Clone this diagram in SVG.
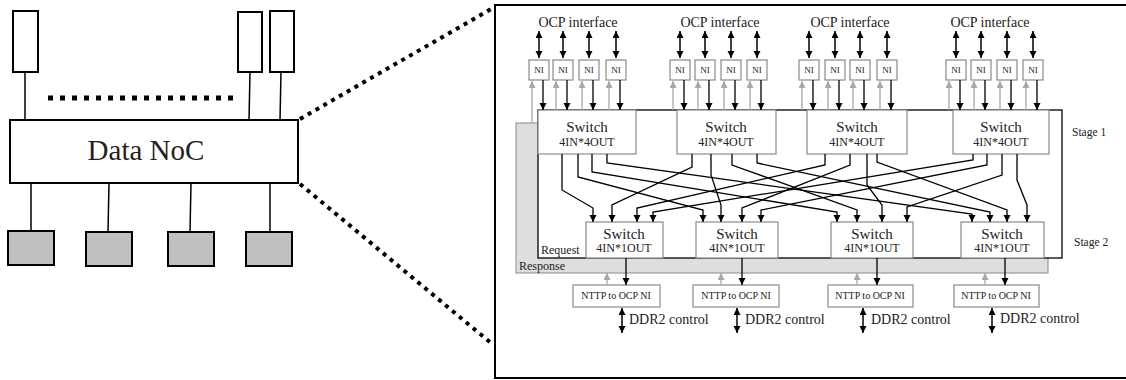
<svg xmlns="http://www.w3.org/2000/svg" width="1126" height="380" viewBox="0 0 1126 380">
<defs>
<marker id="ab" markerUnits="userSpaceOnUse" markerWidth="8" markerHeight="8" refX="7" refY="3.5" orient="auto-start-reverse"><path d="M0,0 L7,3.5 L0,7 z" fill="#000"/></marker>
<marker id="ag" markerUnits="userSpaceOnUse" markerWidth="8" markerHeight="8" refX="7" refY="3.5" orient="auto-start-reverse"><path d="M0,0 L7,3.5 L0,7 z" fill="#a8a8a8"/></marker>
<style>
.lb{fill:#fff;stroke:#000;stroke-width:2}
.gr{fill:#c0c0c0;stroke:#000;stroke-width:2}
.ln{stroke:#000;stroke-width:1.5;fill:none}
.dots{stroke:#000;stroke-width:4;stroke-dasharray:4 5;fill:none}
.sw{fill:#fff;stroke:#8a8a8a;stroke-width:1.2}
.t{font-family:"Liberation Serif",serif;fill:#222}
.blk{stroke:#000;stroke-width:1.3;fill:none;marker-end:url(#ab)}
.dbl{stroke:#000;stroke-width:1.5;fill:none;marker-end:url(#ab);marker-start:url(#ab)}
.gry{stroke:#a8a8a8;stroke-width:1.3;fill:none;marker-end:url(#ag)}
.s1{font-size:15px;text-anchor:middle}
.s2{font-size:12px;text-anchor:middle}
</style>
</defs>

<!-- Left panel -->
<g id="left-top-nodes">
<rect class="lb" x="13" y="11" width="25" height="61"/>
<rect class="lb" x="238" y="12" width="24" height="60"/>
<rect class="lb" x="270" y="11" width="24" height="61"/>
</g>
<g id="data-noc">
<rect class="lb" x="10" y="120" width="288" height="63"/>
<text class="t" x="146" y="160" font-size="29" text-anchor="middle" fill="#000">Data NoC</text>
</g>
<g id="left-bottom-nodes">
<rect class="gr" x="8" y="231" width="46" height="34"/>
<rect class="gr" x="86" y="232" width="46" height="34"/>
<rect class="gr" x="168" y="232" width="46" height="34"/>
<rect class="gr" x="246" y="232" width="46" height="34"/>
</g>
<g id="left-connectors">
<line class="ln" x1="25" y1="72" x2="25" y2="120"/>
<line class="ln" x1="250" y1="72" x2="249" y2="120"/>
<line class="ln" x1="281" y1="72" x2="280" y2="120"/>
<line class="ln" x1="31" y1="183" x2="31" y2="231"/>
<line class="ln" x1="109" y1="183" x2="108" y2="232"/>
<line class="ln" x1="191" y1="183" x2="190" y2="232"/>
<line class="ln" x1="270" y1="183" x2="270" y2="232"/>
<line x1="48" y1="98" x2="236" y2="98" stroke="#000" stroke-width="5" stroke-dasharray="5 7"/>
<line class="dots" x1="300" y1="119" x2="491" y2="9"/>
<line class="dots" x1="300" y1="184" x2="491" y2="343"/>
</g>

<!-- Right panel frame -->
<rect x="495" y="5" width="640" height="373" fill="#fff" stroke="#000" stroke-width="2"/>

<!-- Response / Request regions -->
<g id="response">
<rect x="516" y="123" width="532" height="150" fill="#dedede" stroke="#9a9a9a" stroke-width="1.2"/>
<text class="t" x="519" y="270" font-size="12">Response</text>
</g>
<g id="request">
<rect x="538" y="110" width="524" height="148" fill="#fff" stroke="#000" stroke-width="1.3"/>
<text class="t" x="541" y="254" font-size="12">Request</text>
</g>

<!-- Stage labels -->
<text class="t" x="1072" y="136" font-size="11.5">Stage 1</text>
<text class="t" x="1074" y="246" font-size="11.5">Stage 2</text>

<!-- OCP interface labels -->
<g font-size="14" text-anchor="middle">
<text class="t" x="578" y="27">OCP interface</text>
<text class="t" x="720" y="27">OCP interface</text>
<text class="t" x="850" y="27">OCP interface</text>
<text class="t" x="990" y="27">OCP interface</text>
</g>

<!-- NI nodes -->
<g id="ni-nodes" font-size="9" text-anchor="middle">
<g id="ni1"><rect class="sw" x="529" y="60" width="20" height="20"/><text class="t" x="539" y="73">NI</text></g>
<g id="ni2"><rect class="sw" x="553" y="60" width="20" height="20"/><text class="t" x="563" y="73">NI</text></g>
<g id="ni3"><rect class="sw" x="579" y="60" width="20" height="20"/><text class="t" x="589" y="73">NI</text></g>
<g id="ni4"><rect class="sw" x="606" y="60" width="20" height="20"/><text class="t" x="616" y="73">NI</text></g>
<g id="ni5"><rect class="sw" x="670" y="60" width="20" height="20"/><text class="t" x="680" y="73">NI</text></g>
<g id="ni6"><rect class="sw" x="695" y="60" width="20" height="20"/><text class="t" x="705" y="73">NI</text></g>
<g id="ni7"><rect class="sw" x="721" y="60" width="20" height="20"/><text class="t" x="731" y="73">NI</text></g>
<g id="ni8"><rect class="sw" x="747" y="60" width="20" height="20"/><text class="t" x="757" y="73">NI</text></g>
<g id="ni9"><rect class="sw" x="799" y="60" width="20" height="20"/><text class="t" x="809" y="73">NI</text></g>
<g id="ni10"><rect class="sw" x="825" y="60" width="20" height="20"/><text class="t" x="835" y="73">NI</text></g>
<g id="ni11"><rect class="sw" x="850" y="60" width="20" height="20"/><text class="t" x="860" y="73">NI</text></g>
<g id="ni12"><rect class="sw" x="877" y="60" width="20" height="20"/><text class="t" x="887" y="73">NI</text></g>
<g id="ni13"><rect class="sw" x="946" y="60" width="20" height="20"/><text class="t" x="956" y="73">NI</text></g>
<g id="ni14"><rect class="sw" x="971" y="60" width="20" height="20"/><text class="t" x="981" y="73">NI</text></g>
<g id="ni15"><rect class="sw" x="997" y="60" width="20" height="20"/><text class="t" x="1007" y="73">NI</text></g>
<g id="ni16"><rect class="sw" x="1023" y="60" width="20" height="20"/><text class="t" x="1033" y="73">NI</text></g>
</g>

<!-- Stage 1 switches -->
<g id="stage1">
<g id="s1a"><rect class="sw" x="538" y="110" width="98" height="44"/><text class="t s1" x="587" y="132">Switch</text><text class="t s2" x="587" y="146">4IN*4OUT</text></g>
<g id="s1b"><rect class="sw" x="677" y="110" width="99" height="44"/><text class="t s1" x="726" y="132">Switch</text><text class="t s2" x="726" y="146">4IN*4OUT</text></g>
<g id="s1c"><rect class="sw" x="807" y="110" width="100" height="44"/><text class="t s1" x="857" y="132">Switch</text><text class="t s2" x="857" y="146">4IN*4OUT</text></g>
<g id="s1d"><rect class="sw" x="953" y="110" width="96" height="44"/><text class="t s1" x="1001" y="132">Switch</text><text class="t s2" x="1001" y="146">4IN*4OUT</text></g>
</g>

<!-- Stage 2 switches -->
<g id="stage2">
<g id="s2a"><rect class="sw" x="586" y="222" width="77" height="36"/><text class="t s1" x="624" y="239">Switch</text><text class="t s2" x="624" y="252">4IN*1OUT</text></g>
<g id="s2b"><rect class="sw" x="696" y="222" width="82" height="36"/><text class="t s1" x="737" y="239">Switch</text><text class="t s2" x="737" y="252">4IN*1OUT</text></g>
<g id="s2c"><rect class="sw" x="831" y="222" width="82" height="36"/><text class="t s1" x="872" y="239">Switch</text><text class="t s2" x="872" y="252">4IN*1OUT</text></g>
<g id="s2d"><rect class="sw" x="961" y="222" width="83" height="36"/><text class="t s1" x="1002" y="239">Switch</text><text class="t s2" x="1002" y="252">4IN*1OUT</text></g>
</g>

<!-- NTTP to OCP NI nodes -->
<g id="nttp" font-size="10" text-anchor="middle">
<g id="nttp1"><rect class="sw" x="573" y="285" width="87" height="22"/><text class="t" x="616" y="299">NTTP to OCP NI</text></g>
<g id="nttp2"><rect class="sw" x="693" y="285" width="86" height="22"/><text class="t" x="736" y="299">NTTP to OCP NI</text></g>
<g id="nttp3"><rect class="sw" x="828" y="285" width="85" height="22"/><text class="t" x="870" y="299">NTTP to OCP NI</text></g>
<g id="nttp4"><rect class="sw" x="954" y="285" width="85" height="22"/><text class="t" x="996" y="299">NTTP to OCP NI</text></g>
</g>

<g id="ddr-labels" font-size="14">
<text class="t" x="629" y="324">DDR2 control</text>
<text class="t" x="745" y="324">DDR2 control</text>
<text class="t" x="871" y="324">DDR2 control</text>
<text class="t" x="1000" y="323">DDR2 control</text>
</g>

<!-- Connectors -->
<g id="connectors">
<line class="dbl" x1="539" y1="31" x2="539" y2="58"/>
<line class="dbl" x1="563" y1="31" x2="563" y2="58"/>
<line class="dbl" x1="589" y1="31" x2="589" y2="58"/>
<line class="dbl" x1="616" y1="31" x2="616" y2="58"/>
<line class="dbl" x1="680" y1="31" x2="680" y2="58"/>
<line class="dbl" x1="705" y1="31" x2="705" y2="58"/>
<line class="dbl" x1="731" y1="31" x2="731" y2="58"/>
<line class="dbl" x1="757" y1="31" x2="757" y2="58"/>
<line class="dbl" x1="809" y1="31" x2="809" y2="58"/>
<line class="dbl" x1="835" y1="31" x2="835" y2="58"/>
<line class="dbl" x1="860" y1="31" x2="860" y2="58"/>
<line class="dbl" x1="887" y1="31" x2="887" y2="58"/>
<line class="dbl" x1="956" y1="31" x2="956" y2="58"/>
<line class="dbl" x1="981" y1="31" x2="981" y2="58"/>
<line class="dbl" x1="1007" y1="31" x2="1007" y2="58"/>
<line class="dbl" x1="1033" y1="31" x2="1033" y2="58"/>
<line class="gry" x1="532" y1="123" x2="532" y2="81"/>
<line class="gry" x1="556" y1="110" x2="556" y2="81"/>
<line class="gry" x1="582" y1="110" x2="582" y2="81"/>
<line class="gry" x1="609" y1="110" x2="609" y2="81"/>
<line class="gry" x1="673" y1="110" x2="673" y2="81"/>
<line class="gry" x1="698" y1="110" x2="698" y2="81"/>
<line class="gry" x1="724" y1="110" x2="724" y2="81"/>
<line class="gry" x1="750" y1="110" x2="750" y2="81"/>
<line class="gry" x1="802" y1="110" x2="802" y2="81"/>
<line class="gry" x1="828" y1="110" x2="828" y2="81"/>
<line class="gry" x1="853" y1="110" x2="853" y2="81"/>
<line class="gry" x1="880" y1="110" x2="880" y2="81"/>
<line class="gry" x1="949" y1="110" x2="949" y2="81"/>
<line class="gry" x1="974" y1="110" x2="974" y2="81"/>
<line class="gry" x1="1000" y1="110" x2="1000" y2="81"/>
<line class="gry" x1="1026" y1="110" x2="1026" y2="81"/>
<line class="blk" x1="543" y1="80" x2="543" y2="110"/>
<line class="blk" x1="567" y1="80" x2="567" y2="110"/>
<line class="blk" x1="593" y1="80" x2="593" y2="110"/>
<line class="blk" x1="620" y1="80" x2="620" y2="110"/>
<line class="blk" x1="684" y1="80" x2="684" y2="110"/>
<line class="blk" x1="709" y1="80" x2="709" y2="110"/>
<line class="blk" x1="735" y1="80" x2="735" y2="110"/>
<line class="blk" x1="761" y1="80" x2="761" y2="110"/>
<line class="blk" x1="813" y1="80" x2="813" y2="110"/>
<line class="blk" x1="839" y1="80" x2="839" y2="110"/>
<line class="blk" x1="864" y1="80" x2="864" y2="110"/>
<line class="blk" x1="891" y1="80" x2="891" y2="110"/>
<line class="blk" x1="960" y1="80" x2="960" y2="110"/>
<line class="blk" x1="985" y1="80" x2="985" y2="110"/>
<line class="blk" x1="1011" y1="80" x2="1011" y2="110"/>
<line class="blk" x1="1037" y1="80" x2="1037" y2="110"/>
<polyline class="blk" points="562,154 562,190 593,208 593,222"/>
<polyline class="blk" points="578,154 578,177 703,210 703,222"/>
<polyline class="blk" points="592,154 592,172 837,212 837,222"/>
<polyline class="blk" points="607,154 607,163 972,214 972,222"/>
<polyline class="blk" points="692,154 692,167 612,205 612,222"/>
<polyline class="blk" points="711,154 711,175 721,205 721,222"/>
<polyline class="blk" points="732,154 732,165 857,210 857,222"/>
<polyline class="blk" points="757,154 757,163 990,212 990,222"/>
<polyline class="blk" points="825,154 825,165 637,208 637,222"/>
<polyline class="blk" points="850,154 850,165 742,208 742,222"/>
<polyline class="blk" points="867,154 867,185 882,205 882,222"/>
<polyline class="blk" points="877,154 877,162 1007,210 1007,222"/>
<polyline class="blk" points="973,154 973,160 653,212 653,222"/>
<polyline class="blk" points="987,154 987,165 761,210 761,222"/>
<polyline class="blk" points="1002,154 1002,175 907,207 907,222"/>
<polyline class="blk" points="1017,154 1017,180 1027,205 1027,222"/>
<line class="blk" x1="626" y1="258" x2="626" y2="285"/>
<line class="blk" x1="742" y1="258" x2="742" y2="285"/>
<line class="blk" x1="877" y1="258" x2="877" y2="285"/>
<line class="blk" x1="1005" y1="258" x2="1005" y2="285"/>
<line class="gry" x1="607" y1="285" x2="607" y2="273"/>
<line class="gry" x1="721" y1="285" x2="721" y2="273"/>
<line class="gry" x1="857" y1="285" x2="857" y2="273"/>
<line class="gry" x1="985" y1="285" x2="985" y2="273"/>
<line class="dbl" x1="622" y1="308" x2="622" y2="333"/>
<line class="dbl" x1="737" y1="308" x2="737" y2="333"/>
<line class="dbl" x1="863" y1="308" x2="863" y2="333"/>
<line class="dbl" x1="992" y1="308" x2="992" y2="333"/>
</g>
</svg>
